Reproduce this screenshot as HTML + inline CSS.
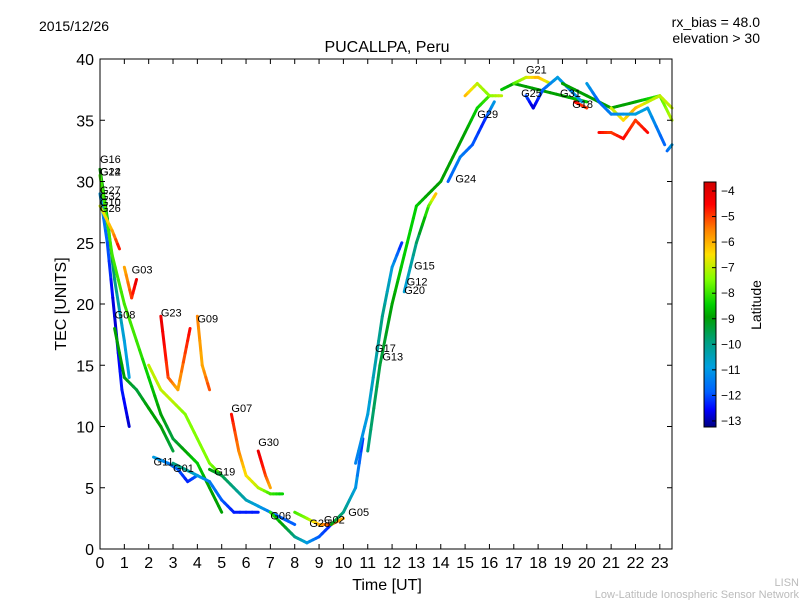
<!DOCTYPE html>
<html><head><meta charset="utf-8">
<style>
body{margin:0;background:#fff;font-family:"Liberation Sans",sans-serif;}
svg text{font-family:"Liberation Sans",sans-serif;}
</style></head>
<body>
<svg id="chart" width="800" height="600" xmlns="http://www.w3.org/2000/svg">
<defs>
<linearGradient id="jet" x1="0" y1="1" x2="0" y2="0"></linearGradient>
</defs>
<text x="39" y="31" font-size="14">2015/12/26</text>
<text x="760" y="27" font-size="14" text-anchor="end">rx_bias = 48.0</text>
<text x="760" y="43" font-size="14" text-anchor="end">elevation &gt; 30</text>
<text x="387" y="52" font-size="16" text-anchor="middle">PUCALLPA, Peru</text>
<g id="traces"></g>
<g id="labels"></g>
<rect x="100" y="59" width="572" height="490" fill="none" stroke="#000" stroke-width="1"/>
<g id="axes"></g>
<text x="387" y="590" font-size="16" text-anchor="middle">Time [UT]</text>
<text x="66" y="304" font-size="16" text-anchor="middle" transform="rotate(-90 66 304)">TEC [UNITS]</text>
<rect x="704" y="182" width="12" height="245" fill="url(#jet)" stroke="#000" stroke-width="1"/>
<g id="cbticks"></g>
<text x="761" y="305" font-size="14" text-anchor="middle" transform="rotate(-90 761 305)">Latitude</text>
<text x="799" y="586" font-size="11" fill="#bbb" text-anchor="end">LISN</text>
<text x="799" y="598" font-size="11" fill="#bbb" text-anchor="end">Low-Latitude Ionospheric Sensor Network</text>
</svg>
<script>
const xTicks=[0,1,2,3,4,5,6,7,8,9,10,11,12,13,14,15,16,17,18,19,20,21,22,23];
const yTicks=[0,5,10,15,20,25,30,35,40];
const cbTicks=[-4,-5,-6,-7,-8,-9,-10,-11,-12,-13];
const satLabels=[[0,31.5,"G16"],[0,30.5,"G14"],[0,30.5,"G22"],[0,29,"G27"],[0,28.5,"G32"],[0,28,"G10"],[0,27.5,"G26"],[1.3,22.5,"G03"],[0.6,18.8,"G08"],[2.5,19,"G23"],[4,18.5,"G09"],[5.4,11.2,"G07"],[6.5,8.4,"G30"],[2.2,6.8,"G11"],[3,6.3,"G01"],[4.7,6,"G19"],[7,2.4,"G06"],[8.6,1.8,"G28"],[9.2,2.1,"G02"],[10.2,2.7,"G05"],[11.3,16.1,"G17"],[11.6,15.4,"G13"],[12.9,22.8,"G15"],[12.6,21.5,"G12"],[12.5,20.8,"G20"],[14.6,29.9,"G24"],[15.5,35.2,"G29"],[17.5,38.8,"G21"],[17.3,36.9,"G25"],[18.9,36.9,"G31"],[19.4,36,"G18"]];
const traces=[
[[0,31,-9],[0.3,27,-9],[0.6,22,-10],[1,17,-11],[1.2,14,-11]],
[[0,30.5,-8],[0.5,24,-8],[1,20,-8],[1.5,17,-8],[2,14,-8.5],[2.5,11,-9],[3,9,-9.5],[3.5,8,-9],[4,7,-8.5],[4.5,5,-9],[5,3,-9]],
[[0,29,-11],[0.3,25,-12],[0.6,19,-13],[0.9,13,-12.5],[1.2,10,-13]],
[[0,28,-7],[0.5,26,-6],[0.8,24.5,-4.5]],
[[1,23,-6],[1.3,20.5,-5],[1.5,22,-4]],
[[0.6,18,-9],[1,14,-9],[1.5,13,-9.5],[2,11.5,-9],[2.5,10,-9],[3,8,-9.5]],
[[2.5,19,-4],[2.8,14,-5],[3.2,13,-6],[3.5,16,-5],[3.7,18,-4.5]],
[[2,15,-7],[2.5,13,-7],[3,12,-7],[3.5,11,-7.5],[4,9,-7.5],[4.5,7,-7.5],[5,6,-8]],
[[4,19,-5.5],[4.2,15,-6],[4.5,13,-5]],
[[5.4,11,-4.5],[5.7,8,-5.5],[6,6,-6.5],[6.5,5,-7],[7,4.5,-8],[7.5,4.5,-8.5]],
[[6.5,8,-4],[6.8,6,-5],[7,5,-6]],
[[2.2,7.5,-11],[2.8,7,-11.5],[3.2,6.5,-12],[3.6,5.5,-12.5],[4,6,-12]],
[[3,7,-10],[3.5,6.5,-10],[4,6,-11],[4.5,5.5,-11.5],[5,4,-12],[5.5,3,-12.5],[6.5,3,-12.5]],
[[4.5,6.5,-9],[5,6,-9.5],[5.5,5,-10],[6,4,-10.5],[6.5,3.5,-11],[7,3,-11.5],[7.5,2.5,-12],[8,2,-12]],
[[7,3,-8],[7.5,2,-9],[8,1,-10],[8.5,0.5,-11],[9,1,-12],[9.5,2,-12.5]],
[[8,3,-8],[8.5,2.5,-7.5],[9,2,-6],[9.5,2,-5],[10,2.5,-6]],
[[9.5,2,-9],[10,3,-10],[10.5,5,-11],[10.8,9,-12.5]],
[[10.5,7,-11.5],[11,11,-11],[11.3,15,-10.5],[11.6,19,-10],[12,23,-11],[12.4,25,-12.5]],
[[11,8,-10],[11.5,15,-9.5],[12,20,-9],[12.5,24,-8.5],[13,28,-8.5],[13.5,29,-9],[14,30,-9],[14.5,32,-9],[15,34,-9],[15.5,36,-8.5],[16,37,-8]],
[[12.5,21,-11],[13,25,-10],[13.5,28,-8],[13.8,29,-6]],
[[14.3,30,-12],[14.8,32,-11.5],[15.3,33,-12],[15.8,35,-12.5],[16.2,36.5,-11]],
[[15,37,-6],[15.5,38,-7],[16,37,-7.5],[16.5,37,-7]],
[[16.5,37.5,-8.5],[17,38,-9],[18,37.5,-9],[19,37,-9],[20,36.5,-8.5]],
[[17,38,-8],[17.5,38.5,-7],[18,38.5,-6],[18.5,38,-7]],
[[17.5,37,-12],[17.8,36,-13],[18.2,37.5,-12],[18.8,38.5,-11],[19.3,37.5,-11.5],[19.8,36.5,-11]],
[[19,38,-9],[20,37,-9],[21,36,-9],[22,36.5,-9],[23,37,-8],[23.5,35,-7]],
[[19.5,36.5,-4.5],[20,36,-5]],
[[20.5,34,-4.5],[21,34,-5],[21.5,33.5,-4.5],[22,35,-5],[22.5,34,-4.5]],
[[21,36,-7],[21.5,35,-6.5],[22,36,-6],[22.5,36.5,-7],[23,37,-7],[23.5,36,-7]],
[[20,38,-11],[20.5,36.5,-12],[21,35.5,-11.5],[22,35.5,-11],[22.5,36,-11],[23.2,33,-12]],
[[23.3,32.5,-12],[23.5,33,-11]]
];
const NS="http://www.w3.org/2000/svg";
const X=t=>100+t*24.34, Y=v=>549-v*12.25;
const cmap=[[-13.4,[0,0,128]],[-12.7,[0,0,255]],[-12,[0,96,255]],[-11,[0,160,224]],[-10,[0,160,128]],[-9,[0,160,0]],[-8.5,[0,208,0]],[-7.5,[128,255,0]],[-6.5,[255,224,0]],[-5.5,[255,128,0]],[-4.5,[255,0,0]],[-3.6,[208,0,0]]];
function jet(lat){lat=Math.max(-13.4,Math.min(-3.6,lat));
 for(let i=0;i<cmap.length-1;i++){const a=cmap[i],b=cmap[i+1];
  if(lat<=b[0]){const u=(lat-a[0])/(b[0]-a[0]);
   return 'rgb('+a[1].map((c,j)=>Math.round(c+(b[1][j]-c)*u)).join(',')+')';}}
 return 'rgb(208,0,0)';}
const grad=document.getElementById('jet');
cmap.forEach(c=>{const s=document.createElementNS(NS,'stop');
 s.setAttribute('offset',((c[0]+13.4)/9.8).toFixed(3));s.setAttribute('stop-color','rgb('+c[1].join(',')+')');grad.appendChild(s);});
const tg=document.getElementById('traces');
traces.forEach((tr,i)=>{
 for(let k=0;k<tr.length-1;k++){
  const a=tr[k],b=tr[k+1];
  for(let s=0;s<4;s++){
   const u0=s/4,u1=(s+1)/4,um=(u0+u1)/2;
   const l=document.createElementNS(NS,'line');
   
   
   l.setAttribute('x1',X(a[0]+(b[0]-a[0])*u0));l.setAttribute('y1',Y(a[1]+(b[1]-a[1])*u0));
   l.setAttribute('x2',X(a[0]+(b[0]-a[0])*u1));l.setAttribute('y2',Y(a[1]+(b[1]-a[1])*u1));
   l.setAttribute('stroke',jet(a[2]+(b[2]-a[2])*um));l.setAttribute('stroke-width','3');l.setAttribute('stroke-linecap','round');
   tg.appendChild(l);
  }
 }
});
const lg=document.getElementById('labels');
satLabels.forEach(s=>{const t=document.createElementNS(NS,'text');
 
 
 t.setAttribute('x',X(s[0]));t.setAttribute('y',Y(s[1]));t.setAttribute('font-size','11');t.textContent=s[2];lg.appendChild(t);});
const ax=document.getElementById('axes');
function add(tag,attrs,txt){const e=document.createElementNS(NS,tag);for(const k in attrs)e.setAttribute(k,attrs[k]);if(txt!==undefined)e.textContent=txt;ax.appendChild(e);return e;}
xTicks.forEach(t=>{const x=X(t);
 const l1=add('line',{x1:x,y1:549,x2:x,y2:544,stroke:'#000'});
 
 const l2=add('line',{x1:x,y1:59,x2:x,y2:64,stroke:'#000'});
 
 const tx=add('text',{x:x,y:568,'font-size':16,'text-anchor':'middle'},String(t));
 });
yTicks.forEach(v=>{const y=Y(v);
 const l1=add('line',{x1:100,y1:y,x2:105,y2:y,stroke:'#000'});
 
 const l2=add('line',{x1:672,y1:y,x2:667,y2:y,stroke:'#000'});
 
 const tx=add('text',{x:94,y:y+6,'font-size':16,'text-anchor':'end'},String(v));
 });
const cg=document.getElementById('cbticks');
cbTicks.forEach(v=>{const y=191+(-4-v)*25.55;
 const l=document.createElementNS(NS,'line');
 
 
 l.setAttribute('x1',712);l.setAttribute('x2',716);l.setAttribute('y1',y);l.setAttribute('y2',y);l.setAttribute('stroke','#000');cg.appendChild(l);
 const t=document.createElementNS(NS,'text');
 
 
 t.setAttribute('x',721);t.setAttribute('y',y+4);t.setAttribute('font-size','12');t.textContent=String(v).replace('-','\u2212');cg.appendChild(t);});
</script>
</body></html>
